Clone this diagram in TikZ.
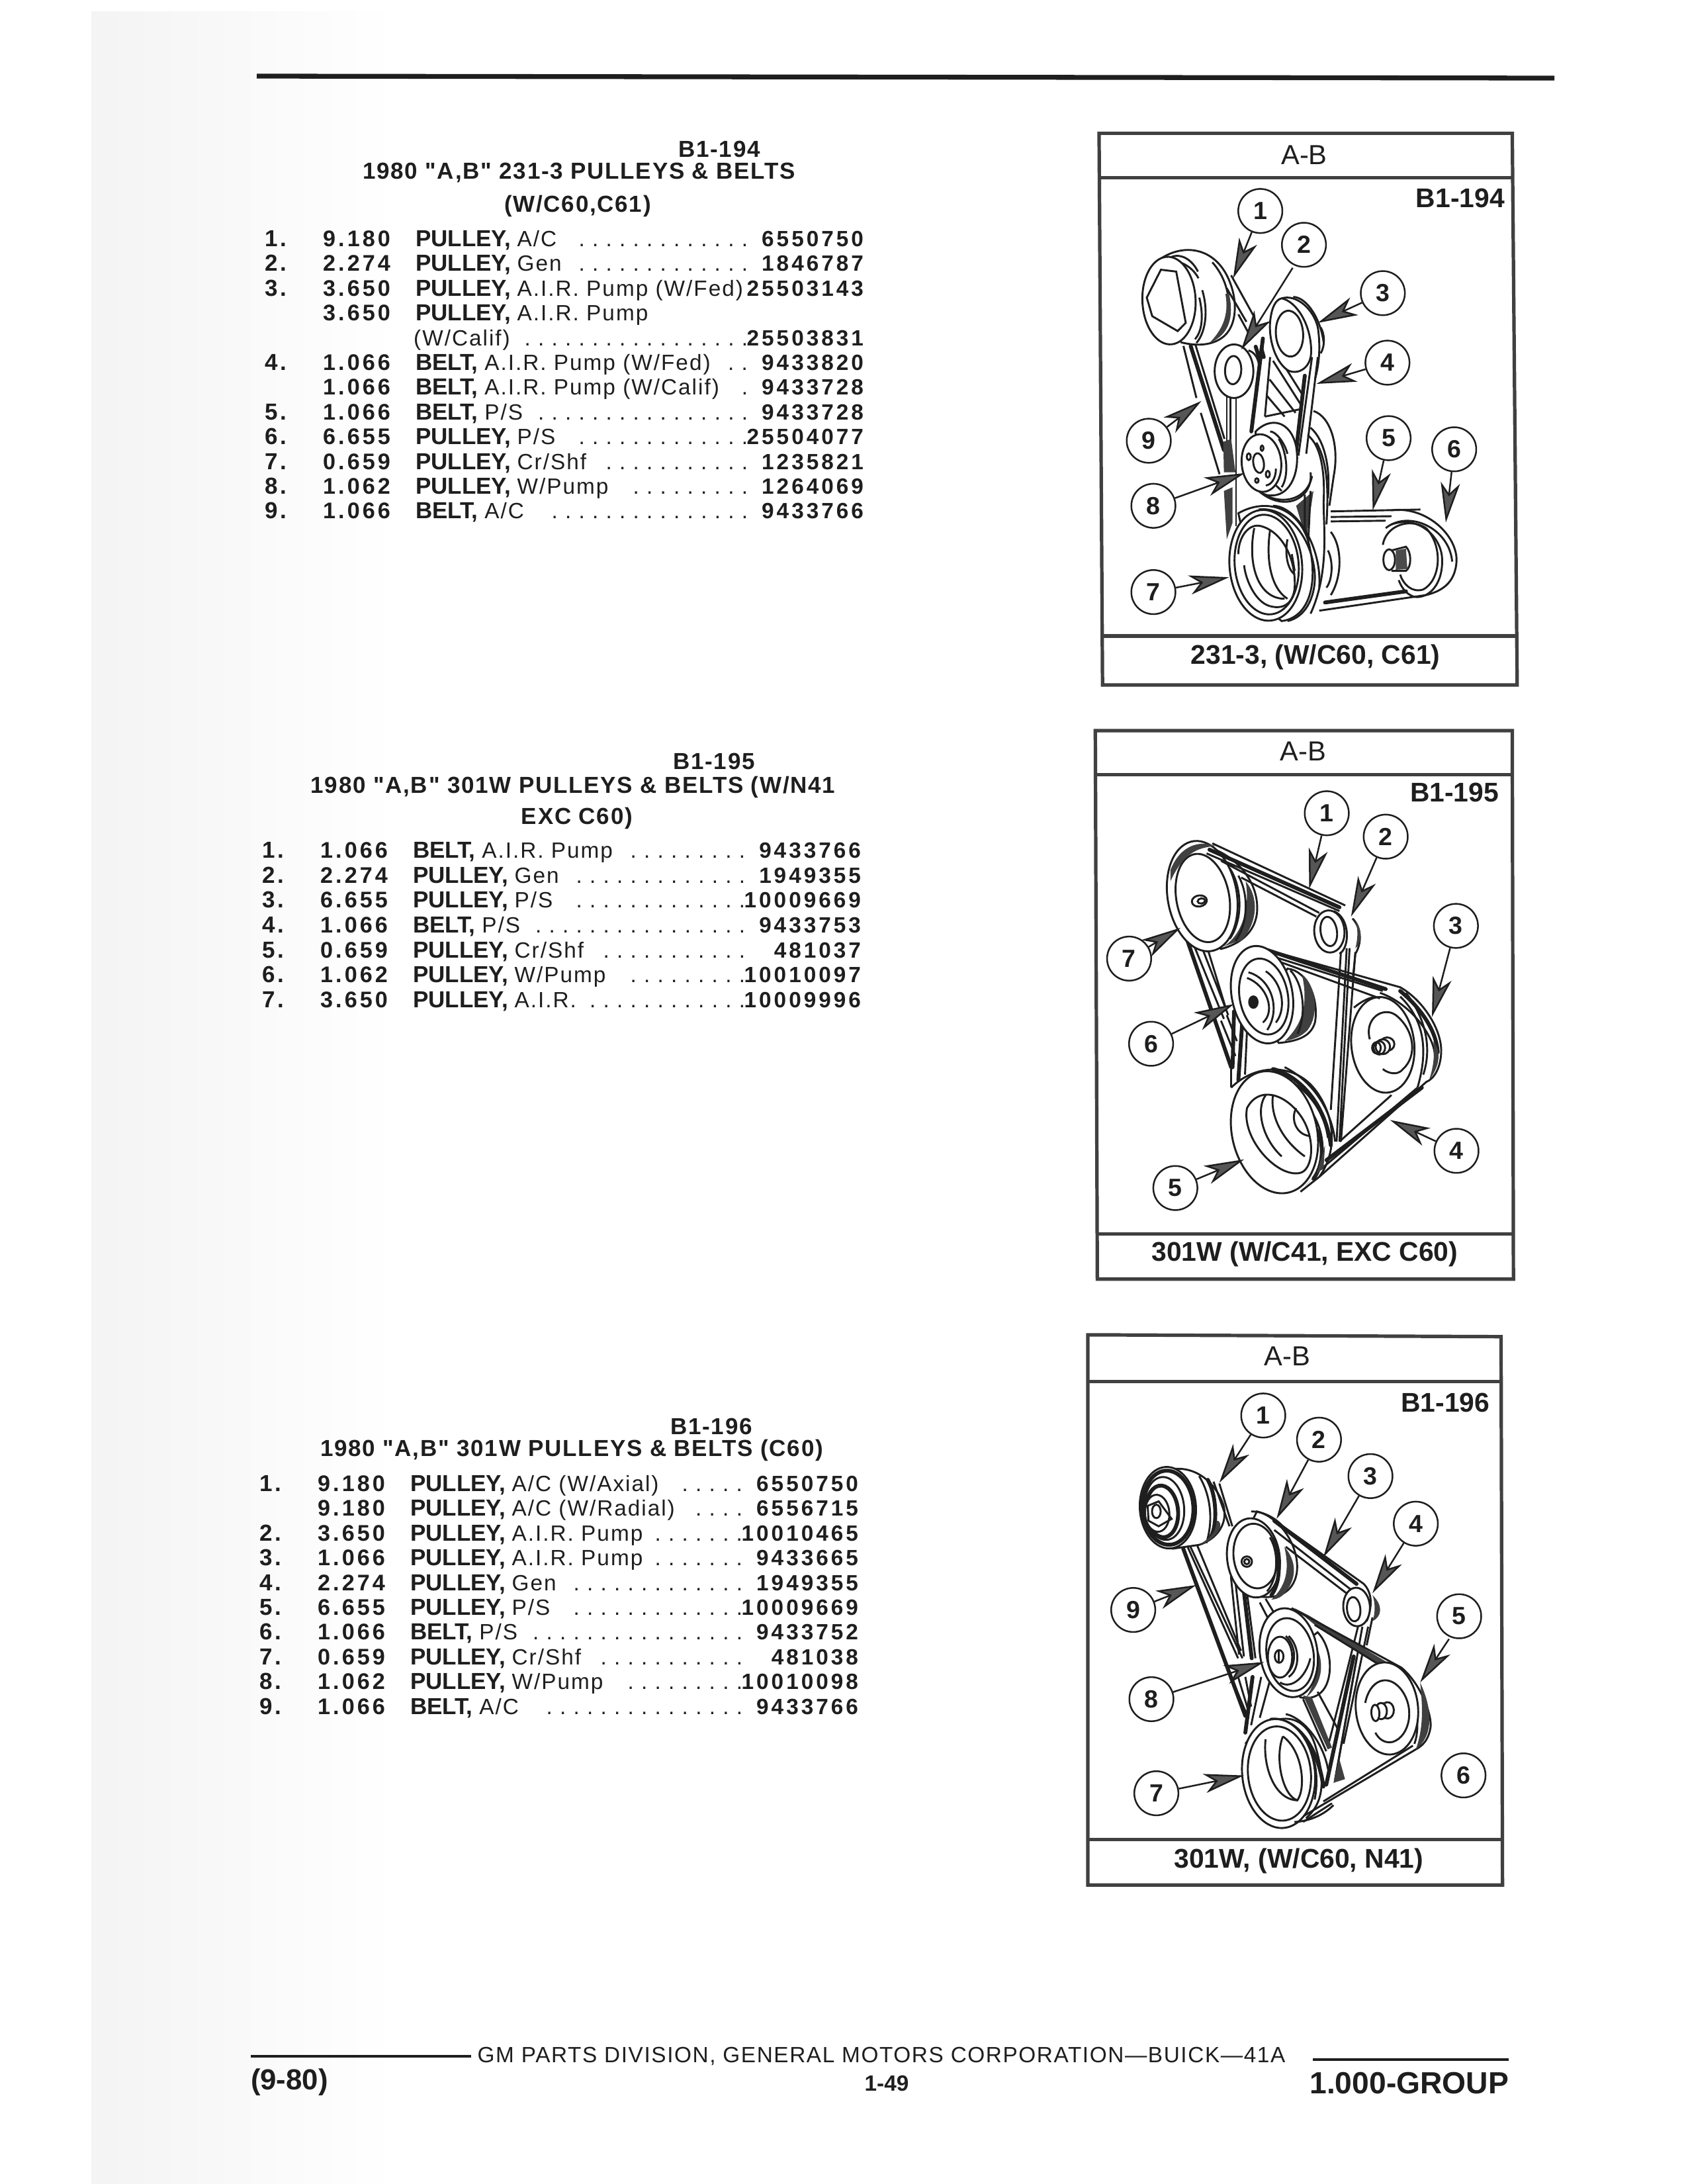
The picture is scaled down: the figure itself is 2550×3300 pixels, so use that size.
\documentclass[tikz,border=0pt]{standalone}
\usepackage{fontspec}
\setmainfont{Liberation Sans}
\usetikzlibrary{arrows.meta}
\newfontfamily\fB{Liberation Sans Bold}
\newfontfamily\fR{Liberation Sans}[LetterSpace=6]
\newfontfamily\fF{Liberation Sans}[LetterSpace=4.8]
\newfontfamily\fN{Liberation Sans Bold}[LetterSpace=12]
\newfontfamily\fH{Liberation Sans Bold}[LetterSpace=5]
\definecolor{ink}{HTML}{1E1E1E}
\tikzset{
  txt/.style={inner sep=0pt,outer sep=0pt,text=ink},
  pl/.style={draw=ink,line width=.7pt},
  pf/.style={draw=ink,line width=.7pt,fill=white},
  pk/.style={draw=ink,line width=1.4pt,line cap=round},
  fr/.style={draw=ink!85,line width=1.25pt},
  num/.style={circle,draw=ink,line width=.6pt,minimum size=16pt,inner sep=0pt,fill=white,text=ink,font=\fontsize{9}{10}\fB},
  lead/.style={draw=ink,line width=.6pt,-{Stealth[length=14.5pt,width=7pt,inset=4pt,fill=ink!75]}},
  zA/.style={cm={0.43668,0,0,0.5618,(1640,180)}},
  zB/.style={cm={0.43668,0,0,0.5618,(1640,1090)}},
  zC/.style={cm={0.43668,0,0,0.5618,(1620,2000)}},
}
\newcommand\pe[6][pf]{\path[#1,rotate around={#6:(#2,#3)}] (#2,#3) ellipse [x radius=#4,y radius=#5];}
\newcommand\mydots[1]{\foreach\i in {1,...,#1}{.\hspace{2.7pt}}}
% id, row y, num, qty, bold, desc, dots, part
\newcommand\prow[8]{%
  \node[txt,anchor=base west] (#1n) at ({\bx+400},#2) {\fontsize{8.4}{10}\fN #3};
  \node[txt,anchor=base east] (#1q) at ({\bx+590},#2) {\fontsize{8.2}{10}\fN #4};
  \node[txt,anchor=base west] (#1d) at ({\bx+628},#2) {\fontsize{8.4}{10}\fB #5\ \fontsize{8}{10}\fR #6};
  \ifnum#7>0 \node[txt,anchor=base east] (#1o) at ({\bx+1130},#2) {\fontsize{8}{10}\fR\mydots{#7}};\fi
  \node[txt,anchor=base east] (#1p) at ({\bx+1305},#2) {\fontsize{8}{10}\fN #8};
}
\newcommand\frametxt[4]{%
  \node[txt,font=\fontsize{10}{12}\selectfont] (#1a) at #2 {A-B};
  \node[txt,font=\fontsize{9.8}{12}\fB] (#1b) at #3 {#4};
}
\begin{document}
\begin{tikzpicture}[x=0.24pt,y=-0.24pt]
\useasboundingbox (0,0) rectangle (2550,3300);
\fill[white] (0,0) rectangle (2550,3300);
% scan stipple on the left
\shade[left color=black!4.5,right color=white] (138,17) rectangle (600,3300);
% top rule
\coordinate (ruleL) at (388,115); \coordinate (ruleR) at (2349,118);
\draw[ink,line width=1.75pt] (ruleL) -- (ruleR);

%%%%%%%% block 1
\def\bx{0}
\node[txt,font=\fontsize{8.4}{10}\fH] (h1a) at (1087,225) {B1-194};
\node[txt,font=\fontsize{8.4}{10}\fH] (h1b) at (875,261) {1980 "A,B" 231-3 PULLEYS \& BELTS};
\node[txt,font=\fontsize{8.4}{10}\fH] (h1c) at (873,311) {(W/C60,C61)};
\prow{aa}{372}{1.}{9.180}{PULLEY,}{A/C}{13}{6550750}
\prow{ab}{409}{2.}{2.274}{PULLEY,}{Gen}{13}{1846787}
\prow{ac}{447}{3.}{3.650}{PULLEY,}{A.I.R. Pump (W/Fed)}{0}{25503143}
\prow{ad}{484}{}{3.650}{PULLEY,}{A.I.R. Pump}{0}{}
\prow{ae}{522}{}{}{}{\hspace{-3pt}(W/Calif)}{17}{25503831}
\prow{af}{559}{4.}{1.066}{BELT,}{A.I.R. Pump (W/Fed)}{2}{9433820}
\prow{ag}{596}{}{1.066}{BELT,}{A.I.R. Pump (W/Calif)}{1}{9433728}
\prow{ah}{634}{5.}{1.066}{BELT,}{P/S}{16}{9433728}
\prow{ai}{671}{6.}{6.655}{PULLEY,}{P/S}{13}{25504077}
\prow{aj}{709}{7.}{0.659}{PULLEY,}{Cr/Shf}{11}{1235821}
\prow{ak}{746}{8.}{1.062}{PULLEY,}{W/Pump}{9}{1264069}
\prow{al}{783}{9.}{1.066}{BELT,}{A/C}{15}{9433766}

%%%%%%%% block 2
\def\bx{-4}
\node[txt,font=\fontsize{8.4}{10}\fH] (h2a) at (1079,1150) {B1-195};
\node[txt,font=\fontsize{8.4}{10}\fH] (h2b) at (866,1189) {1980 "A,B" 301W PULLEYS \& BELTS (W/N41};
\node[txt,font=\fontsize{8.4}{10}\fH] (h2c) at (872,1236) {EXC C60)};
\prow{ba}{1296}{1.}{1.066}{BELT,}{A.I.R. Pump}{9}{9433766}
\prow{bb}{1334}{2.}{2.274}{PULLEY,}{Gen}{13}{1949355}
\prow{bc}{1371}{3.}{6.655}{PULLEY,}{P/S}{13}{10009669}
\prow{bd}{1409}{4.}{1.066}{BELT,}{P/S}{16}{9433753}
\prow{be}{1447}{5.}{0.659}{PULLEY,}{Cr/Shf}{11}{481037}
\prow{bf}{1484}{6.}{1.062}{PULLEY,}{W/Pump}{9}{10010097}
\prow{bg}{1522}{7.}{3.650}{PULLEY,}{A.I.R.}{12}{10009996}

%%%%%%%% block 3
\def\bx{-8}
\node[txt,font=\fontsize{8.4}{10}\fH] (h3a) at (1075,2155) {B1-196};
\node[txt,font=\fontsize{8.4}{10}\fH] (h3b) at (864,2191) {1980 "A,B" 301W PULLEYS \& BELTS (C60)};
\prow{ca}{2253}{1.}{9.180}{PULLEY,}{A/C (W/Axial)}{5}{6550750}
\prow{cb}{2290}{}{9.180}{PULLEY,}{A/C (W/Radial)}{4}{6556715}
\prow{cc}{2328}{2.}{3.650}{PULLEY,}{A.I.R. Pump}{7}{10010465}
\prow{cd}{2365}{3.}{1.066}{PULLEY,}{A.I.R. Pump}{7}{9433665}
\prow{ce}{2403}{4.}{2.274}{PULLEY,}{Gen}{13}{1949355}
\prow{cf}{2440}{5.}{6.655}{PULLEY,}{P/S}{13}{10009669}
\prow{cg}{2477}{6.}{1.066}{BELT,}{P/S}{16}{9433752}
\prow{ch}{2515}{7.}{0.659}{PULLEY,}{Cr/Shf}{11}{481038}
\prow{ci}{2552}{8.}{1.062}{PULLEY,}{W/Pump}{9}{10010098}
\prow{cj}{2590}{9.}{1.066}{BELT,}{A/C}{15}{9433766}

%%%%%%%% footer
\coordinate (flA) at (379,3107); \coordinate (flB) at (712,3107);
\draw[ink,line width=1.1pt] (flA) -- (flB);
\coordinate (frA) at (1984,3112); \coordinate (frB) at (2280,3112);
\draw[ink,line width=1.1pt] (frA) -- (frB);
\node[txt,font=\fontsize{8}{10}\fF] (ft1) at (1332,3107) {GM PARTS DIVISION, GENERAL MOTORS CORPORATION—BUICK—41A};
\node[txt,anchor=west,font=\fontsize{10.5}{12}\fB] (ft2) at (379,3146) {(9-80)};
\node[txt,font=\fontsize{8}{10}\fB] (ft3) at (1340,3148) {1-49};
\node[txt,anchor=east,font=\fontsize{11.1}{12}\fB] (ft4) at (2280,3148) {1.000-GROUP};

%%%%%%%% DIAGRAM 1
\begin{scope}[zA]
\path[fr] (48,38) -- (1478,38) -- (1495,1522) -- (60,1522) -- cycle;
\coordinate (a1) at (48,158); \coordinate (a2) at (1478,158); \draw[fr] (a1) -- (a2);
\coordinate (a3) at (65,1390); \coordinate (a4) at (1490,1390); \draw[fr] (a3) -- (a4);
\frametxt{A}{(758,97)}{(1298,212)}{B1-194}
\node[txt,font=\fontsize{9.8}{12}\fB] (Af) at (797,1447) {231-3, (W/C60, C61)};
% belts to crank
\draw[pl] (340,610)--(385,750) (400,790)--(465,955);
\draw[pk] (365,610)--(480,890);
\draw[pl] (382,608)--(482,860);
\draw[pl] (490,735)--(490,920) (502,745)--(502,930) (522,750)--(522,1095);
\fill[ink!85] (478,868)--(505,860)--(520,950)--(480,950)--cycle;
\fill[ink!85] (480,1000)--(510,990)--(510,1085)--(490,1130)--cycle;
% AC pulley
\draw[pf] (262,375) .. controls (340,335) and (440,345) .. (490,420) .. controls (530,480) and (530,560) .. (470,590) .. controls (430,610) and (380,610) .. (330,600);
\draw[pl] (285,385) .. controls (320,375) and (370,395) .. (392,428);
\draw[pl] (300,370) .. controls (340,360) and (375,385) .. (390,410);
\draw[pl] (405,460) .. controls (425,510) and (420,570) .. (385,602);
\draw[pl] (395,480) .. controls (410,530) and (405,570) .. (380,592);
\draw[pl] (440,385) .. controls (480,420) and (505,470) .. (495,530);
\fill[ink!85] (498,470) .. controls (515,530) and (500,580) .. (430,602) .. controls (470,570) and (500,530) .. (485,470) -- cycle;
\pe{290}{488}{92}{118}{5}
\draw[pl] (262,405)--(315,410)--(348,548)--(320,570)--(232,530)--(213,480)--cycle;
% belt top of AC
\draw[pl] (505,420)--(582,528) (490,455)--(558,545) (530,525)--(565,575);
% idler 2
\draw[pl] (565,622) .. controls (600,630) and (615,670) .. (590,720);
\draw[pk] (590,612) -- (605,650) (610,618)--(618,640);
\pe{515}{678}{67}{72}{0}
\pe{512}{675}{28}{38}{-5}
% AIR pump belts
\draw[pk] (615,590)--(575,840);
\draw[pl] (640,640)--(622,800);
\draw[pl] (785,640)--(738,905) (805,640)--(765,900);
\draw[pl] (622,800)--(745,780);
\foreach \a/\b/\c/\d in {650/650/748/770,638/700/728/790,630/745/690/800,670/640/755/745}{\draw[pl] (\a,\b)--(\c,\d);}
% air pulley
\draw[pl] (680,482) .. controls (730,470) and (790,510) .. (805,560) .. controls (815,610) and (810,660) .. (795,700);
\draw[pl] (720,478) .. controls (770,480) and (815,540) .. (825,600) (815,560) .. controls (830,580) and (830,610) .. (815,630);
\draw[pf] (680,482) .. controls (730,490) and (780,550) .. (782,620) .. controls (785,670) and (735,690) .. (700,675) .. controls (655,650) and (635,590) .. (640,545) .. controls (645,505) and (660,485) .. (680,482) -- cycle;
\pe{707}{577}{47}{62}{8}
% crank back arcs and P/S belt
\draw[pl] (790,785) .. controls (850,800) and (880,880) .. (860,960) -- (845,1040);
\draw[pl] (780,830) .. controls (825,860) and (850,930) .. (840,1020);
\draw[pl] (850,1055)--(1160,1050) (850,1070)--(1060,1068) (850,1082)--(1040,1080);
\draw[pl] (850,1110) .. controls (890,1150) and (890,1230) .. (850,1280);
\draw[pl] (840,1160) .. controls (860,1190) and (855,1240) .. (835,1260);
\draw[pl] (770,850) .. controls (820,880) and (830,960) .. (825,1030) .. controls (825,1100) and (845,1220) .. (780,1330);
\draw[pl] (800,870) .. controls (845,930) and (840,1020) .. (835,1090);
% P/S pulley
\draw[pl] (1060,1052) .. controls (1180,1040) and (1290,1120) .. (1285,1190) .. controls (1280,1250) and (1230,1270) .. (1180,1280) -- (810,1322);
\draw[pk] (830,1300)--(1110,1270);
\draw[pl] (1040,1100) .. controls (1120,1050) and (1260,1100) .. (1270,1190);
\draw[pl] (1060,1090) .. controls (1150,1065) and (1230,1120) .. (1235,1180) .. controls (1240,1250) and (1190,1290) .. (1140,1285) .. controls (1120,1280) and (1100,1270) .. (1085,1240);
\draw[pl] (1030,1145) .. controls (1040,1095) and (1120,1070) .. (1180,1100);
\draw[pl] (1180,1100) .. controls (1240,1150) and (1230,1240) .. (1170,1265) .. controls (1130,1275) and (1100,1250) .. (1090,1225);
\draw[pl] (1060,1160)--(1110,1150) .. controls (1130,1165) and (1130,1205) .. (1110,1215) -- (1060,1215);
\pe{1052}{1185}{20}{28}{0}
\fill[ink!80] (1075,1160)--(1110,1155)--(1115,1210)--(1075,1212)--cycle;
% W/Pump
\draw[pk] (760,690)--(720,960);
\draw[pf] (590,840) .. controls (640,800) and (710,810) .. (730,880) .. controls (745,950) and (710,1010) .. (650,1012) .. controls (620,1015) and (600,1000) .. (590,990) -- cycle;
\draw[pl] (670,860) .. controls (700,900) and (705,960) .. (680,990);
\draw[pl] (640,840) .. controls (660,840) and (690,870) .. (700,900);
\draw[pl] (620,1010) .. controls (690,1040) and (770,1020) .. (785,960);
\draw[pl] (600,1000) .. controls (690,1060) and (790,1020) .. (780,950);
\pe{610}{925}{68}{78}{15}
\pe{600}{925}{18}{27}{15}
\pe[pl]{566}{908}{7}{9}{0}
\pe[pl]{632}{955}{7}{9}{0}
\pe[pl]{612}{885}{5}{7}{0}
\pe[pl]{594}{972}{6}{6}{0}
\draw[pl] (660,940) .. controls (660,970) and (640,985) .. (625,985) (660,985) -- (680,1000);
% Crank
\fill[ink!85] (730,1040)--(790,1000)--(765,1130)--cycle;
\draw[pl] (760,1010)--(760,1160) (780,1000)--(770,1170);
\draw[pf] (530,1060) .. controls (620,1020) and (730,1040) .. (770,1130) .. controls (810,1240) and (780,1340) .. (680,1350) -- (600,1300) -- cycle;
\draw[pl] (600,1050) .. controls (700,1040) and (790,1130) .. (795,1230) .. controls (795,1290) and (760,1340) .. (700,1350);
\draw[pl] (650,1040) .. controls (730,1040) and (820,1150) .. (810,1260);
\pe{625}{1200}{125}{150}{12}
\pe{628}{1198}{110}{135}{12}
\draw[pl] (530,1170) .. controls (530,1120) and (570,1085) .. (610,1095) .. controls (680,1110) and (730,1180) .. (725,1260) .. controls (720,1300) and (690,1320) .. (640,1310);
\draw[pl] (550,1200) .. controls (555,1240) and (590,1300) .. (640,1310);
\draw[pl] (585,1100) .. controls (560,1200) and (600,1290) .. (690,1290);
\draw[pl] (640,1105) .. controls (625,1180) and (640,1260) .. (700,1290);
\draw[pl] (700,1130) .. controls (690,1170) and (700,1210) .. (725,1225) (715,1170)--(725,1215);
% labels
\node[num] (A1) at (606,247) {1}; \coordinate (At1) at (512,428); \draw[lead] (A1) -- (At1);
\node[num] (A2) at (757,338) {2}; \coordinate (At2) at (540,620); \coordinate (As2) at (718,400); \draw[lead] (As2) -- (At2);
\node[num] (A3) at (1030,468) {3}; \coordinate (At3) at (805,548); \draw[lead] (A3) -- (At3);
\node[num] (A4) at (1046,655) {4}; \coordinate (At4) at (800,712); \draw[lead] (A4) -- (At4);
\node[num] (A5) at (1050,858) {5}; \coordinate (At5) at (995,1052); \draw[lead] (A5) -- (At5);
\node[num] (A6) at (1277,888) {6}; \coordinate (At6) at (1248,1085); \draw[lead] (A6) -- (At6);
\node[num] (A7) at (236,1272) {7}; \coordinate (At7) at (498,1232); \draw[lead] (A7) -- (At7);
\node[num] (A8) at (236,1040) {8}; \coordinate (At8) at (552,952); \draw[lead] (A8) -- (At8);
\node[num] (A9) at (220,865) {9}; \coordinate (At9) at (402,758); \draw[lead] (A9) -- (At9);
\end{scope}

%%%%%%%% DIAGRAM 2
\begin{scope}[zB]
\path[fr] (35,25) -- (1478,25) -- (1482,1500) -- (42,1500) -- cycle;
\coordinate (b1) at (35,143); \coordinate (b2) at (1475,143); \draw[fr] (b1) -- (b2);
\coordinate (b3) at (42,1378); \coordinate (b4) at (1480,1378); \draw[fr] (b3) -- (b4);
\frametxt{B}{(755,80)}{(1278,192)}{B1-195}
\node[txt,font=\fontsize{9.8}{12}\fB] (Bf) at (760,1433) {301W (W/C41, EXC C60)};
% AC belts down
\draw[pk] (345,570)--(505,930);
\draw[pl] (375,600)--(480,800) (400,600)--(495,790) (425,615)--(490,780);
\draw[pl] (450,810)--(510,935) (470,805)--(520,900) (490,790)--(525,860);
\draw[pk] (515,780)--(510,930);
\draw[pk] (543,815)--(530,965);
\draw[pl] (560,830)--(553,950);
% AC pulley
\draw[pl] (505,985) -- (505,930);
\draw[pf] (450,345) .. controls (540,375) and (600,440) .. (595,510) .. controls (590,570) and (530,600) .. (470,612) -- (350,560) -- cycle;
\fill[ink!85] (555,430) .. controls (600,470) and (600,540) .. (540,590) .. controls (530,590) and (500,600) .. (480,605) .. controls (550,570) and (570,490) .. (555,430);
\draw[pl] (500,395) .. controls (540,440) and (550,530) .. (500,585);
\draw[pl] (530,415) .. controls (570,470) and (560,550) .. (520,590);
\pe{405}{470}{118}{152}{20}
\pe{407}{475}{90}{122}{20}
\fill[ink!85] (295,400) .. controls (330,330) and (400,320) .. (450,335) .. controls (400,340) and (345,345) .. (295,430) -- cycle;
\pe{395}{483}{26}{15}{5}
\pe{402}{483}{13}{7}{5}
% top belt
\draw[pl] (440,328)--(900,495) (420,355)--(880,510) (470,375)--(810,515) (540,420)--(800,525);
\draw[pk] (430,345)--(880,500);
% idler
\draw[pl] (925,530) .. controls (960,560) and (955,600) .. (935,625) -- (925,700);
\fill[ink!85] (930,530) .. controls (965,560) and (955,600) .. (935,610) .. controls (945,580) and (945,550) .. (930,530);
\draw[pl] (885,620)--(850,1045) (905,610)--(870,1130) (915,610)--(880,1130) (935,620)--(885,1130);
\pe{845}{565}{52}{57}{15}
\pe{843}{565}{28}{40}{15}
\draw[pl] (860,510) .. controls (920,530) and (915,610) .. (880,625);
% W/pump back
\draw[pf] (700,665) .. controls (770,670) and (810,750) .. (795,810) .. controls (780,850) and (730,860) .. (670,865) -- (600,780) -- cycle;
\fill[ink!85] (750,680) .. controls (800,710) and (810,790) .. (770,830) .. controls (745,850) and (720,855) .. (690,860) .. controls (760,810) and (770,750) .. (750,680);
\draw[pl] (710,670) .. controls (750,700) and (770,780) .. (735,840);
% P/S belt
\draw[pl] (610,610)--(1090,715) .. controls (1170,750) and (1235,830) .. (1232,890) .. controls (1230,930) and (1210,960) .. (1180,970) -- (810,1225);
\draw[pl] (620,625)--(1030,725) (650,640)--(1020,745) (1020,730) .. controls (1130,760) and (1210,850) .. (1210,900);
\draw[pk] (630,615)--(1040,720);
\draw[pk] (1090,725) .. controls (1160,770) and (1215,830) .. (1220,890);
\draw[pk] (835,1180)--(1165,985);
\draw[pl] (880,1130)--(1060,1005) (815,1205)--(1150,985);
\fill[ink!85] (1205,860) .. controls (1235,890) and (1225,930) .. (1190,965) .. controls (1205,930) and (1210,900) .. (1205,860);
% P/S pulley
\draw[pl] (1110,730) .. controls (1180,800) and (1200,880) .. (1170,950) (1090,740) .. controls (1170,800) and (1190,880) .. (1150,985);
\pe{1030}{870}{108}{130}{15}
\draw[pl] (985,855) .. controls (965,800) and (1030,765) .. (1075,790) .. controls (1140,830) and (1150,900) .. (1100,935) .. controls (1080,955) and (1045,945) .. (1030,935);
\pe{1045}{868}{25}{18}{0}
\pe{1030}{875}{25}{20}{0}
\pe[pl]{1018}{878}{20}{18}{0}
\pe[pl]{1008}{878}{15}{15}{0}
\draw[pl] (930,770) .. controls (960,750) and (1000,735) .. (1020,745);
% W/pump face
\pe{612}{735}{103}{135}{22}
\pe{618}{740}{82}{105}{22}
\draw[pl] (565,675) .. controls (640,690) and (680,770) .. (630,830);
\draw[pl] (625,672) .. controls (680,700) and (700,770) .. (660,810);
\draw[pl] (560,690) .. controls (630,710) and (660,780) .. (615,810);
\fill[ink] (582,755) ellipse [x radius=18,y radius=18];
% crank
\draw[pl] (505,985) .. controls (590,920) and (720,920) .. (790,985) .. controls (860,1050) and (880,1150) .. (810,1225) -- (745,1265);
\draw[pk] (650,935) .. controls (730,950) and (830,1020) .. (850,1140);
\draw[pl] (600,945) .. controls (700,940) and (820,1010) .. (840,1120);
\draw[pl] (690,930) .. controls (770,960) and (850,1030) .. (865,1130);
\draw[pk] (780,1080) .. controls (830,1110) and (830,1190) .. (790,1230);
\draw[pl] (740,1010) .. controls (810,1060) and (835,1130) .. (815,1190);
\fill[ink!85] (800,1220) -- (830,1140) -- (825,1200) -- (760,1250) -- cycle;
\pe{655}{1105}{142}{172}{32}
\draw[pl] (560,1040) .. controls (600,980) and (690,1000) .. (745,1060) .. controls (800,1120) and (790,1210) .. (740,1215) .. controls (660,1225) and (540,1120) .. (560,1040) -- cycle;
\draw[pl] (625,1005) .. controls (590,1040) and (610,1120) .. (680,1170);
\draw[pl] (650,1005) .. controls (640,1050) and (670,1120) .. (760,1170);
\draw[pl] (730,1040) .. controls (710,1070) and (730,1110) .. (775,1115);
% labels
\node[num] (B1) at (836,247) {1}; \coordinate (Bt1) at (775,450); \draw[lead] (B1) -- (Bt1);
\node[num] (B2) at (1040,310) {2}; \coordinate (Bt2) at (920,525); \draw[lead] (B2) -- (Bt2);
\node[num] (B3) at (1283,550) {3}; \coordinate (Bt3) at (1200,795); \draw[lead] (B3) -- (Bt3);
\node[num] (B4) at (1285,1155) {4}; \coordinate (Bt4) at (1055,1072); \draw[lead] (B4) -- (Bt4);
\node[num] (B5) at (312,1255) {5}; \coordinate (Bt5) at (550,1178); \draw[lead] (B5) -- (Bt5);
\node[num] (B6) at (228,867) {6}; \coordinate (Bt6) at (515,760); \draw[lead] (B6) -- (Bt6);
\node[num] (B7) at (152,638) {7}; \coordinate (Bt7) at (330,555); \draw[lead] (B7) -- (Bt7);
\end{scope}

%%%%%%%% DIAGRAM 3
\begin{scope}[zC]
\path[fr] (55,30) -- (1485,35) -- (1490,1510) -- (55,1510) -- cycle;
\coordinate (c1) at (55,155); \coordinate (c2) at (1480,155); \draw[fr] (c1) -- (c2);
\coordinate (c3) at (60,1388); \coordinate (c4) at (1485,1388); \draw[fr] (c3) -- (c4);
\frametxt{C}{(745,88)}{(1292,212)}{B1-196}
\node[txt,font=\fontsize{9.8}{12}\fB] (Cf) at (785,1445) {301W, (W/C60, N41)};
% AC belts
\draw[pk] (385,605)--(600,1055);
\draw[pl] (410,600)--(590,900) (430,590)--(585,880) (400,600)--(575,900);
\draw[pl] (550,950)--(610,1060) (575,950)--(610,1040) (600,950)--(620,1030);
\draw[pl] (550,680)--(578,890) (565,690)--(595,895);
\draw[pk] (595,720)--(622,900);
\draw[pl] (605,720)--(635,900);
\draw[pk] (625,950)--(600,1100);
\draw[pl] (655,950)--(620,1080) (685,960)--(650,1060);
\draw[pl] (650,750)--(680,795) (670,740)--(705,785);
% AC pulley
\draw[pf] (340,392) .. controls (430,380) and (500,430) .. (525,490) .. controls (540,540) and (500,580) .. (440,595) -- (350,605) -- cycle;
\draw[pk] (470,420) .. controls (500,460) and (505,540) .. (480,575);
\draw[pl] (440,410) .. controls (480,460) and (490,530) .. (465,590);
\draw[pl] (510,430)--(555,545) (490,425)--(545,545);
\fill[ink!85] (500,530) .. controls (530,530) and (510,580) .. (440,595) .. controls (480,575) and (500,560) .. (500,530);
\pe{332}{495}{97}{110}{10}
\pe[pk]{332}{495}{88}{100}{10}
\pe{320}{497}{68}{85}{10}
\pe[pk]{312}{505}{55}{70}{10}
\pe{295}{510}{42}{50}{10}
\draw[pl] (262,490)--(300,478)--(345,525)--(300,545)--(265,530)--cycle;
\pe{292}{505}{15}{18}{0}
% AIR pulley
\draw[pf] (640,505) .. controls (720,520) and (790,600) .. (778,670) .. controls (765,730) and (700,745) .. (620,730) -- (580,600) -- cycle;
\fill[ink!85] (735,600) .. controls (780,640) and (780,690) .. (730,730) .. controls (715,740) and (700,742) .. (690,742) .. controls (750,700) and (750,650) .. (735,600);
\pe{628}{630}{90}{108}{18}
\pe[pl]{635}{625}{75}{88}{18}
\draw[pl] (685,575) .. controls (720,620) and (710,690) .. (675,720);
\draw[pk] (700,580) .. controls (725,640) and (720,700) .. (690,730);
\pe{605}{640}{18}{14}{0}
\pe[pl]{605}{640}{9}{7}{0}
% belt 3
\draw[pl] (620,505) .. controls (660,505) and (700,520) .. (730,545) -- (1010,700) .. controls (1040,725) and (1040,760) .. (1020,800);
\draw[pk] (700,530)--(985,700);
\draw[pl] (700,555)--(965,715) (740,600)--(950,725);
% idler
\fill[ink!85] (1040,730) .. controls (1080,760) and (1070,790) .. (1040,800) .. controls (1050,780) and (1050,750) .. (1040,730);
\draw[pl] (1040,790)--(1020,865);
\draw[pl] (990,815)--(890,1125) (1005,815)--(910,1230) (1025,815)--(940,1130);
\pe{985}{762}{46}{52}{10}
\pe{975}{768}{23}{33}{10}
% W/pump back and P/S belt
\draw[pf] (850,830) .. controls (900,870) and (905,950) .. (870,985) .. controls (850,1005) and (820,1010) .. (790,1005) -- (740,900) -- cycle;
\fill[ink!85] (830,850) .. controls (880,900) and (870,970) .. (810,1005) .. controls (850,960) and (860,900) .. (830,850);
\fill[ink!85] (770,765) -- (820,785) -- (1100,915) -- (1080,925) -- (840,810) -- cycle;
\draw[pl] (760,765) -- (1140,925) .. controls (1210,970) and (1250,1060) .. (1240,1090) .. controls (1230,1130) and (1200,1140) .. (1190,1145) -- (800,1325);
\draw[pl] (840,810)--(1100,935);
\draw[pl] (870,1285)--(1180,1135) (800,1340)--(900,1290);
\fill[ink!85] (1205,965) .. controls (1250,1040) and (1250,1110) .. (1190,1145) .. controls (1215,1090) and (1215,1040) .. (1205,965);
% P/S pulley
\draw[pl] (1120,920) .. controls (1190,980) and (1210,1080) .. (1185,1130);
\pe{1090}{1035}{107}{125}{15}
\draw[pl] (1015,1020) .. controls (1030,960) and (1090,940) .. (1135,980) .. controls (1190,1030) and (1170,1110) .. (1110,1125) .. controls (1080,1130) and (1060,1115) .. (1050,1100);
\pe{1092}{1040}{22}{22}{5}
\pe{1070}{1042}{20}{22}{5}
\pe{1050}{1047}{14}{22}{5}
% belts lower
\fill[ink!85] (800,1000) -- (830,1005) -- (900,1140) -- (885,1145) -- cycle;
\draw[pl] (850,990)--(920,1090) (800,1010)--(880,1150);
\draw[pk] (975,895)--(880,1240);
\draw[pl] (985,900)--(910,1230);
\fill[ink!85] (925,1170)--(945,1225)--(905,1235)--cycle;
% W/pump face
\pe{750}{885}{98}{122}{20}
\pe{755}{890}{80}{100}{20}
\pe{720}{897}{42}{55}{0}
\draw[pl] (750,840) .. controls (790,870) and (790,930) .. (750,950);
\draw[pl] (740,840) .. controls (780,870) and (775,920) .. (745,940);
\draw[pl] (720,965) .. controls (760,985) and (810,950) .. (825,900);
\pe{717}{895}{15}{17}{0}
\draw[pl] (715,880)--(715,910);
% crank
\draw[pl] (600,1130) .. controls (690,1040) and (800,1040) .. (840,1130) .. controls (880,1230) and (870,1290) .. (810,1330);
\draw[pk] (690,1065) .. controls (770,1060) and (850,1130) .. (870,1245);
\draw[pl] (740,1050) .. controls (800,1060) and (880,1130) .. (890,1220);
\draw[pl] (780,1090) .. controls (830,1130) and (860,1200) .. (840,1280);
\fill[ink!85] (790,1100) .. controls (850,1160) and (850,1250) .. (800,1320) -- (820,1260) .. controls (830,1200) and (820,1150) .. (790,1100);
\pe{715}{1210}{125}{148}{15}
\pe{718}{1210}{108}{128}{15}
\draw[pl] (670,1118) .. controls (660,1190) and (700,1280) .. (780,1282);
\draw[pl] (730,1110) .. controls (700,1170) and (730,1270) .. (780,1282) .. controls (810,1250) and (800,1150) .. (730,1110);
\draw[pl] (770,1340) .. controls (800,1340) and (860,1330) .. (905,1295);
% labels
\node[num] (C1) at (662,247) {1}; \coordinate (Ct1) at (510,428); \draw[lead] (C1) -- (Ct1);
\node[num] (C2) at (855,312) {2}; \coordinate (Ct2) at (708,525); \draw[lead] (C2) -- (Ct2);
\node[num] (C3) at (1033,410) {3}; \coordinate (Ct3) at (870,628); \draw[lead] (C3) -- (Ct3);
\node[num] (C4) at (1190,538) {4}; \coordinate (Ct4) at (1040,725); \draw[lead] (C4) -- (Ct4);
\node[num] (C5) at (1340,787) {5}; \coordinate (Cs5) at (1305,848); \coordinate (Ct5) at (1205,965); \draw[lead] (Cs5) -- (Ct5);
\node[num] (C6) at (1355,1215) {6};
\node[num] (C7) at (292,1263) {7}; \coordinate (Ct7) at (595,1215); \draw[lead] (C7) -- (Ct7);
\node[num] (C8) at (275,1010) {8}; \coordinate (Ct8) at (665,910); \draw[lead] (C8) -- (Ct8);
\node[num] (C9) at (212,770) {9}; \coordinate (Ct9) at (430,703); \draw[lead] (C9) -- (Ct9);
\end{scope}
\end{tikzpicture}
\end{document}
